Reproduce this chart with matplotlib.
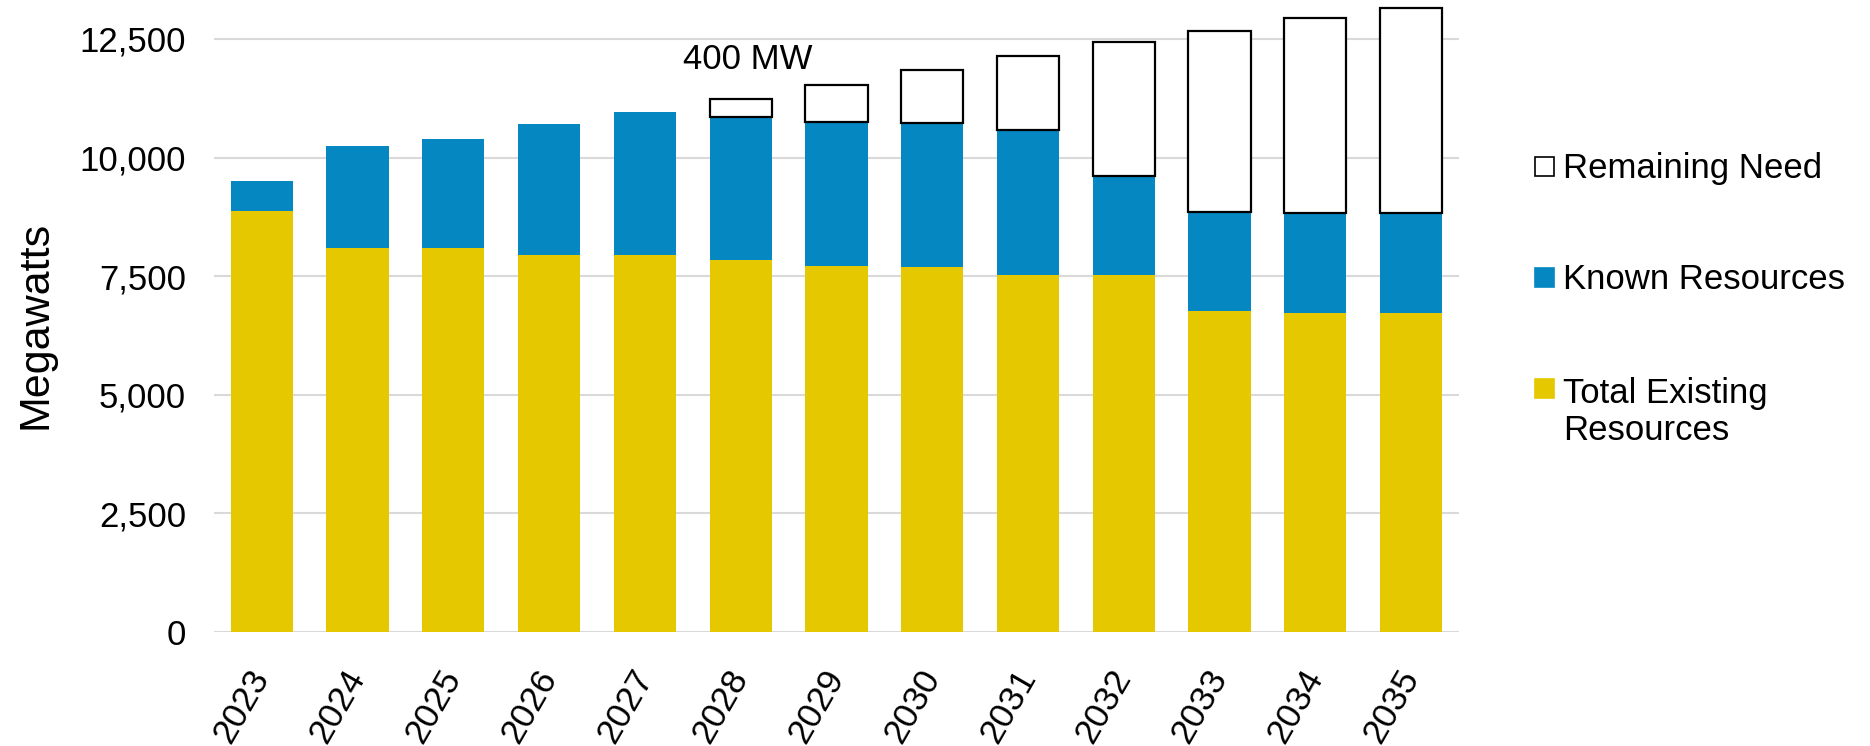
import matplotlib.pyplot as plt
from matplotlib.patches import Rectangle
import numpy as np

# ================= DATA =================
years = ["2023", "2024", "2025", "2026", "2027", "2028", "2029",
         "2030", "2031", "2032", "2033", "2034", "2035"]
existing = [8870, 8085, 8085, 7955, 7955, 7830, 7710, 7690, 7515, 7520, 6760, 6725, 6725]
known = [630, 2160, 2295, 2755, 3015, 3020, 3030, 3040, 3055, 2085, 2085, 2105, 2105]
remaining = [0, 0, 0, 0, 0, 375, 780, 1120, 1565, 2840, 3830, 4120, 4330]
yticks = [0, 2500, 5000, 7500, 10000, 12500]

YELLOW = "#E5C800"
BLUE = "#0587C2"

plt.rcParams['font.family'] = ['Liberation Sans', 'DejaVu Sans']

# ================= PLOT =================
fig = plt.figure(figsize=(18.7, 7.46), dpi=100)
ax = fig.add_axes([0.1144, 0.1528, 0.6658, 0.8472])

x = np.arange(len(years))
w = 0.65
existing = np.array(existing)
known = np.array(known)
remaining = np.array(remaining)

ax.bar(x, existing, w, color=YELLOW, zorder=2)
ax.bar(x, known, w, bottom=existing, color=BLUE, zorder=2)
has_need = remaining > 0
ax.bar(x[has_need], remaining[has_need], w, bottom=(existing + known)[has_need],
       facecolor="white", edgecolor="black", linewidth=1.6, zorder=2)

ax.text(5.07, 12060, "400 MW", fontsize=25, ha="center", va="center")

ax.set_xlim(-0.5, 12.5)
ax.set_ylim(0, 13320)
ax.set_yticks(yticks)
ax.set_yticklabels([f"{v:,}" for v in yticks])
ax.set_xticks(x)
ax.set_xticklabels(years, rotation=60, ha="right", va="center", rotation_mode="anchor")
ax.tick_params(axis="y", length=0, pad=20, labelsize=25)
ax.tick_params(axis="x", length=0, pad=29, labelsize=25.5)
ax.grid(axis="y", color="#d9d9d9", linewidth=1.5, zorder=0)
for s in ["top", "right", "left", "bottom"]:
    ax.spines[s].set_visible(False)

fig.text(0.019, 0.565, "Megawatts", rotation=90, fontsize=31, ha="center", va="center")

# ---- legend drawn by hand ----
legend_items = [("Remaining Need", "white", "black", 0.7641),
                ("Known Resources", BLUE, BLUE, 0.6153),
                ("Total Existing\nResources", YELLOW, YELLOW, 0.4665)]
for label, fc, ec, yb in legend_items:
    fig.add_artist(Rectangle((0.8209, yb), 0.0099, 0.0248, transform=fig.transFigure,
                             facecolor=fc, edgecolor=ec, linewidth=1.2))
    if "\n" in label:
        fig.text(0.8358, 0.4950, label, fontsize=25, ha="left", va="top", linespacing=1.15)
    else:
        fig.text(0.8358, yb + 0.0094, label, fontsize=25, ha="left", va="center")

fig.savefig("out.png", dpi=100)
